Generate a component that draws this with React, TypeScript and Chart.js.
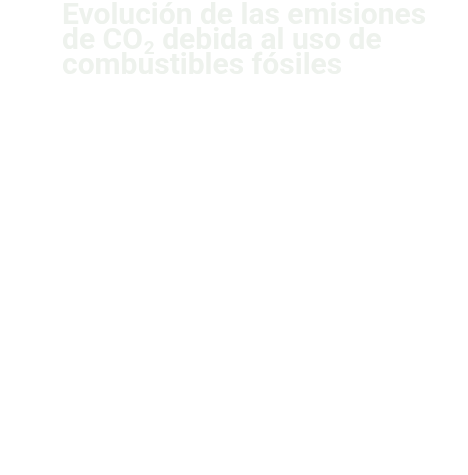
import { useEffect, useRef } from 'react';
import { Chart, ChartConfiguration, Plugin, registerables } from 'chart.js';

Chart.register(...registerables);

// The reference shows only the title; no series is drawn.
const titleLines = [
  'Evolución de las emisiones',
  'de CO₂ debida al uso de',
  'combustibles fósiles',
];
const years: string[] = [];
const emissions: number[] = [];

const TITLE_COLOR = '#eef2ed';

// draws the title, with the "₂" as a lowered, smaller 2
const titlePlugin: Plugin = {
  id: 'subscriptTitle',
  afterDraw(chart) {
    const ctx = chart.ctx;
    const left = 62;
    const firstBaseline = 23.5;
    const lineGap = 25;
    const mainFont = 'bold 30px Roboto';
    const subFont = 'bold 19px Roboto';

    ctx.save();
    ctx.fillStyle = TITLE_COLOR;
    ctx.textBaseline = 'alphabetic';
    ctx.textAlign = 'left';
    titleLines.forEach((line, i) => {
      const y = firstBaseline + i * lineGap;
      let x = left;
      const parts = line.split('₂');
      parts.forEach((part, j) => {
        ctx.font = mainFont;
        ctx.fillText(part, x, y);
        x += ctx.measureText(part).width;
        if (j < parts.length - 1) {
          ctx.font = subFont;
          ctx.fillText('2', x + 1, y + 5);
          x += ctx.measureText('2').width + 1;
        }
      });
    });
    ctx.restore();
  },
};

export default function App() {
  const chartRef = useRef<HTMLCanvasElement>(null);
  const chartInstance = useRef<Chart | null>(null);

  useEffect(() => {
    if (!chartRef.current) return;
    if (chartInstance.current) chartInstance.current.destroy();

    const config: ChartConfiguration = {
      type: 'line',
      data: {
        labels: years,
        datasets: [
          {
            label: 'Emisiones de CO₂',
            data: emissions,
            borderColor: TITLE_COLOR,
            backgroundColor: TITLE_COLOR,
          },
        ],
      },
      options: {
        animation: false,
        responsive: true,
        maintainAspectRatio: false,
        layout: { padding: { left: 62, top: 90 } },
        plugins: {
          legend: { display: false },
          tooltip: { enabled: false },
          title: { display: false },
        },
        scales: {
          x: { display: false },
          y: { display: false },
        },
      },
      plugins: [titlePlugin],
    };

    chartInstance.current = new Chart(chartRef.current, config);

    return () => {
      if (chartInstance.current) {
        chartInstance.current.destroy();
        chartInstance.current = null;
      }
    };
  }, []);

  return (
    <div
      style={{
        position: 'fixed',
        left: 0,
        top: 0,
        width: 468,
        height: 475,
        background: '#ffffff',
      }}
    >
      <canvas ref={chartRef}></canvas>
    </div>
  );
}
